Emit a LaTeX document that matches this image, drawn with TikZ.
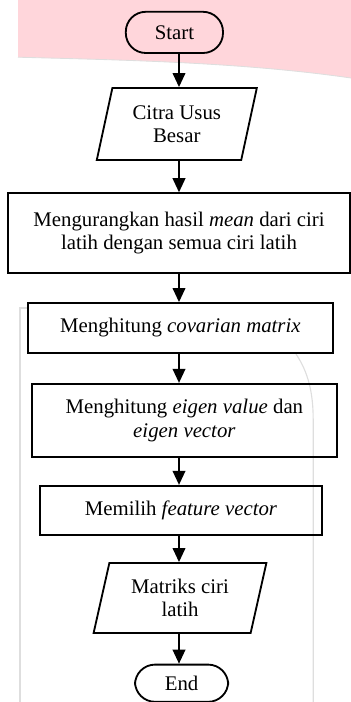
\documentclass[tikz,border=0pt]{standalone}
\usepackage{fontspec}
\setmainfont{Liberation Serif}
\usetikzlibrary{arrows.meta}
\usetikzlibrary{shapes.geometric}
\tikzset{flow/.style = {draw, line width=1.3pt, -{Triangle[length=10pt, width=9pt]}},
         terminal/.style = {draw, line width=1.3pt, rectangle, rounded corners=0.5cm,
                            align=center, inner sep=0pt},
         process/.style = {draw, line width=1.3pt, rectangle, align=center, inner sep=0pt},
         inout/.style = {draw, line width=1.3pt, trapezium, trapezium stretches=true,
                         trapezium left angle=74, trapezium right angle=106,
                         align=center, inner sep=0pt}}
\definecolor{mpink}{rgb}{1.0, 0.84, 0.86}
\definecolor{mgray}{rgb}{0.87, 0.87, 0.87}

\begin{document}
\begin{tikzpicture}[font=\fontsize{14.8}{16.6}\selectfont]
      \useasboundingbox (0, 0) rectangle (8.775, -17.55);

      \fill [mpink] (0.45, 0) -- (0.45, -1.43) .. controls (3, -1.5) and (6, -1.55) .. (8.775, -1.95) -- (8.775, 0) -- cycle;
      \draw [mgray, line width=0.6pt] (0.45, -1.43) .. controls (3, -1.5) and (6, -1.55) .. (8.775, -1.95);
      \draw [mgray, line width=0.8pt] (0.7, -7.7) -- (0.5, -7.7) -- (0.5, -17.55);
      \draw [mgray, line width=0.8pt] (7.4, -8.85) .. controls (7.7, -9.3) and (7.83, -9.8) .. (7.83, -10.5) -- (7.83, -17.55);

      \coordinate (axis) at (4.475, 0);

      \node [terminal, minimum width=2.43cm, minimum height=1.03cm] (start) at (4.36, -0.81) {Start};
      \node [inout, minimum width=4cm, minimum height=1.8cm] (citra) at (4.42, -3.1) {Citra Usus\\Besar};
      \node [process, minimum width=8.55cm, minimum height=2cm] (kurang) at (4.475, -5.83)
            {Mengurangkan hasil \textit{mean} dari ciri\\latih dengan semua ciri latih};
      \node [process, minimum width=7.63cm, minimum height=1.25cm] (kovarian) at (4.51, -8.2)
            {Menghitung \textit{covarian matrix}};
      \node [process, minimum width=7.63cm, minimum height=1.83cm] (eigen) at (4.61, -10.51)
            {Menghitung \textit{eigen value} dan\\\textit{eigen vector}};
      \node [process, minimum width=7.05cm, minimum height=1.23cm] (fitur) at (4.525, -12.76)
            {Memilih \textit{feature vector}};
      \node [inout, minimum width=4.35cm, minimum height=1.75cm] (matriks) at (4.5, -14.95) {Matriks ciri\\latih};
      \node [terminal, minimum width=2.33cm, minimum height=0.93cm] (end) at (4.54, -17.08) {End};

      \draw [flow] (start.south -| axis) -- (citra.north -| axis);
      \draw [flow] (citra.south -| axis) -- (kurang.north -| axis);
      \draw [flow] (kurang.south -| axis) -- (kovarian.north -| axis);
      \draw [flow] (kovarian.south -| axis) -- (eigen.north -| axis);
      \draw [flow] (eigen.south -| axis) -- (fitur.north -| axis);
      \draw [flow] (fitur.south -| axis) -- (matriks.north -| axis);
      \draw [flow] (matriks.south -| axis) -- (end.north -| axis);
    \end{tikzpicture}
\end{document}
